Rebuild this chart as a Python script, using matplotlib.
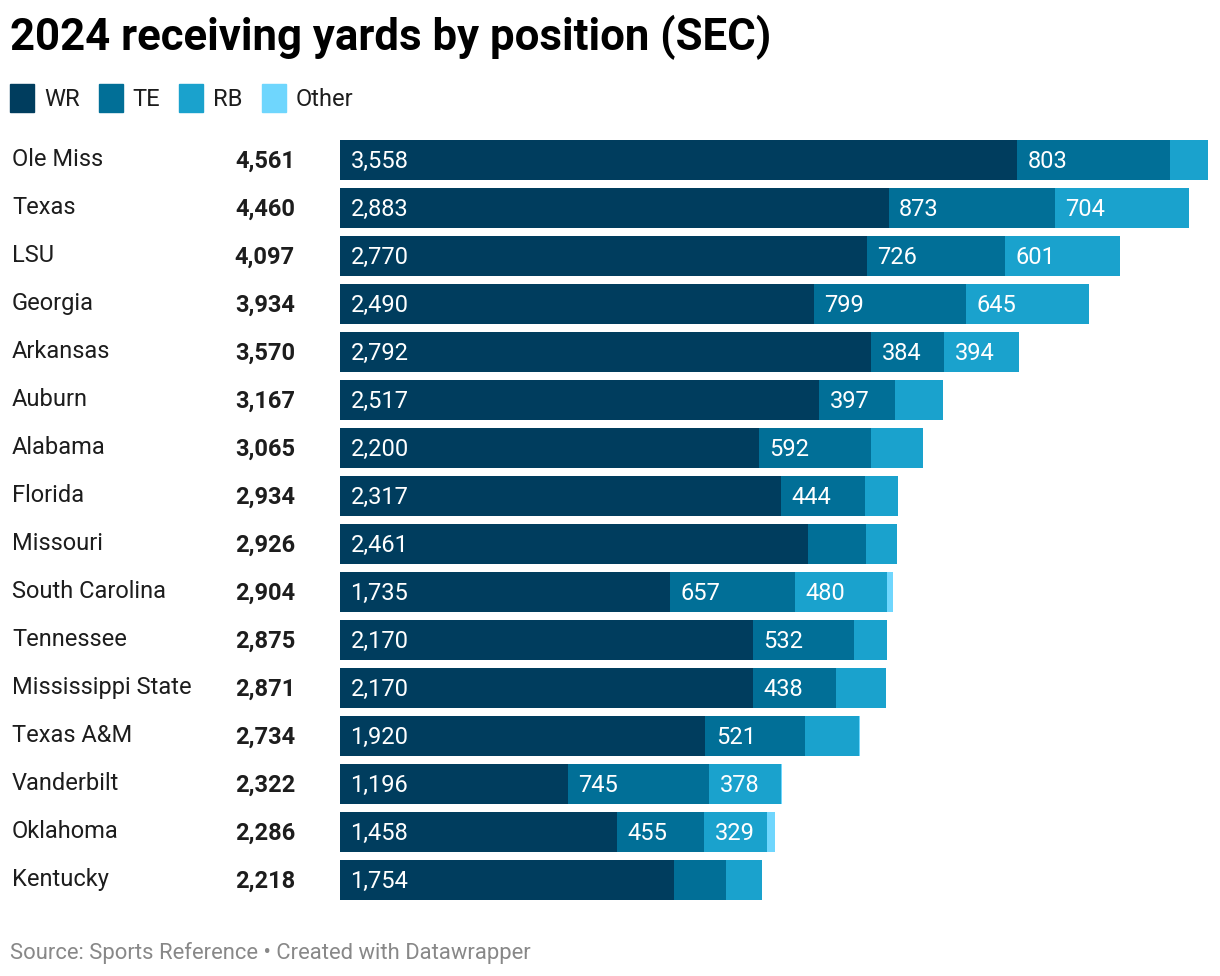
import matplotlib.pyplot as plt
import matplotlib.transforms as mtrans
from matplotlib.patches import Rectangle

# -----------------------------
# data
# -----------------------------
teams = ["Ole Miss", "Texas", "LSU", "Georgia", "Arkansas", "Auburn", "Alabama",
         "Florida", "Missouri", "South Carolina", "Tennessee", "Mississippi State",
         "Texas A&M", "Vanderbilt", "Oklahoma", "Kentucky"]
totals = [4561, 4460, 4097, 3934, 3570, 3167, 3065, 2934, 2926, 2904, 2875,
          2871, 2734, 2322, 2286, 2218]
wr = [3558, 2883, 2770, 2490, 2792, 2517, 2200, 2317, 2461, 1735, 2170, 2170,
      1920, 1196, 1458, 1754]
te = [803, 873, 726, 799, 384, 397, 592, 444, 305, 657, 532, 438, 521, 745,
      455, 275]
rb = [200, 704, 601, 645, 394, 253, 273, 173, 160, 480, 173, 263, 285, 378,
      329, 189]
other = [0, 0, 0, 0, 0, 0, 0, 0, 0, 32, 0, 0, 8, 3, 44, 0]

series = [("WR", wr, "#003d5e"), ("TE", te, "#016f97"),
          ("RB", rb, "#1aa2cd"), ("Other", other, "#6fd6fd")]

W, H = 1220, 976
fig = plt.figure(figsize=(W / 100, H / 100), dpi=100)
plt.rcParams['font.family'] = ['Roboto', 'DejaVu Sans']

# bar area: x 340 -> 1208 px, rows of 48 px starting at y=136
ax = fig.add_axes([340 / W, 1 - 904 / H, 868 / W, 768 / H])
ax.set_xlim(0, max(totals))
ax.set_ylim(len(teams) - 0.5, -0.5)
ax.axis("off")

ypos = list(range(len(teams)))
left = [0] * len(teams)
for name, vals, color in series:
    ax.barh(ypos, vals, left=left, height=40 / 48, color=color, linewidth=0)
    for i, v in enumerate(vals):
        if v >= 320:
            ax.annotate(f"{v:,}", (left[i], i), xytext=(7.5, -1.2),
                        textcoords="offset points", ha="left", va="center",
                        color="white", fontsize=17)
    left = [l + v for l, v in zip(left, vals)]

# team names and totals
tr = mtrans.blended_transform_factory(fig.transFigure, ax.transData)
for i, (t, tot) in enumerate(zip(teams, totals)):
    ax.text(12 / W, i - 0.01, t, transform=tr, ha="left", va="center",
            fontsize=17, color="#1d1d1d")
    ax.text(295 / W, i + 0.02, f"{tot:,}", transform=tr, ha="right", va="center",
            fontsize=17, fontweight="bold", color="#1d1d1d")

# title
fig.text(10 / W, 1 - 37 / H, "2024 receiving yards by position (SEC)",
         ha="left", va="center", fontsize=31.5, fontweight="bold", color="#000000")

# legend
lx = 10
for name, _, color in series:
    fig.patches.append(Rectangle((lx / W, 1 - 112 / H), 24 / W, 28 / H,
                                 transform=fig.transFigure, color=color))
    t = fig.text((lx + 34) / W, 1 - 99 / H, name, ha="left", va="center",
                 fontsize=17, color="#1d1d1d")
    fig.canvas.draw()
    bb = t.get_window_extent()
    lx = bb.x1 + 19

# source
fig.text(10 / W, 1 - 953 / H, "Source: Sports Reference • Created with Datawrapper",
         ha="left", va="center", fontsize=15.8, color="#888888")

plt.savefig("out.png", dpi=100)
